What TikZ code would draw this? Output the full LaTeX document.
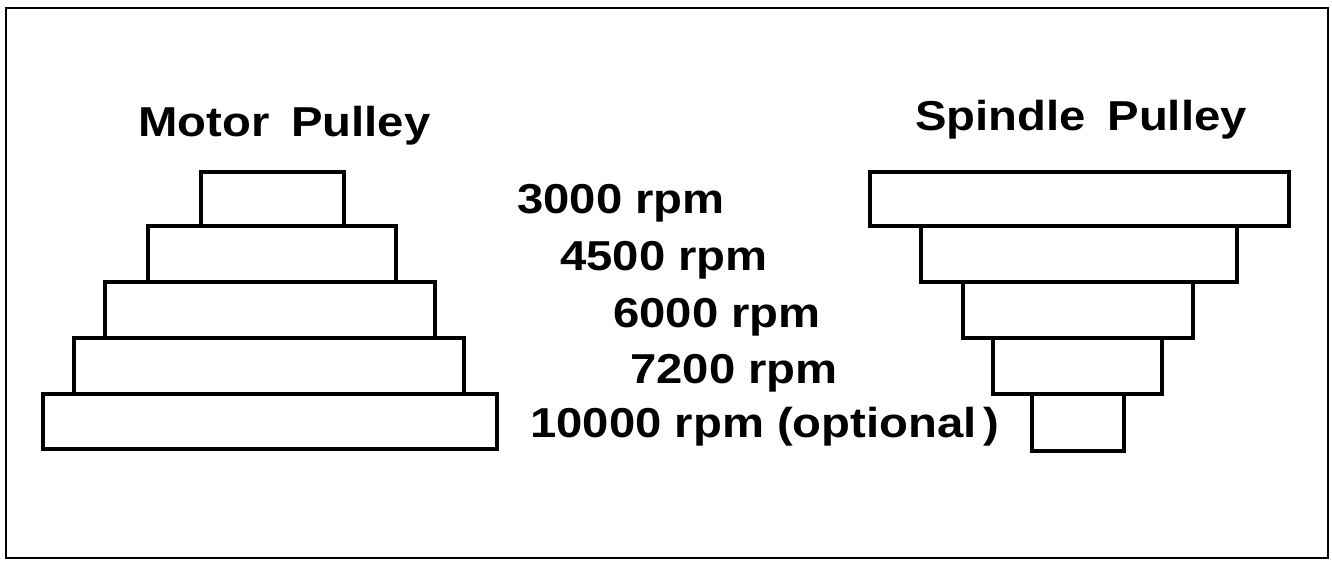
\documentclass[tikz,border=0pt]{standalone}
\usepackage{fontspec}
\newfontfamily\pulleyfont{Liberation Sans}[FakeStretch=1.13]
\usepackage{tikz}
\usetikzlibrary{positioning}

\tikzset{
  heading/.style={font=\pulleyfont\bfseries\fontsize{23.8}{28}\selectfont, inner sep=0pt, anchor=base west},
  speed/.style={font=\pulleyfont\bfseries\fontsize{23.8}{28}\selectfont, inner sep=0pt, anchor=base west},
  pulley/.style={line width=1.9pt}
}

\begin{document}
\begin{tikzpicture}

\useasboundingbox (0, 0) rectangle (26.64, 11.22);

% Frame
\draw[line width=1.6pt] (0.12, 0.06) rectangle (26.56, 11.06);

% Titles
\node[heading] (motor) at (2.76, 8.48) {Motor\hspace{0.2em} Pulley};
\node[heading] (spindle) at (18.30, 8.62) {Spindle\hspace{0.2em} Pulley};

% Motor pulley steps
\draw[pulley] (4.02, 6.70) rectangle (6.88, 7.78);
\draw[pulley] (2.96, 5.58) rectangle (7.92, 6.70);
\draw[pulley] (2.10, 4.46) rectangle (8.70, 5.58);
\draw[pulley] (1.48, 3.34) rectangle (9.28, 4.46);
\draw[pulley] (0.86, 2.24) rectangle (9.94, 3.34);

% Spindle pulley steps
\draw[pulley] (17.40, 6.70) rectangle (25.78, 7.78);
\draw[pulley] (18.42, 5.58) rectangle (24.74, 6.70);
\draw[pulley] (19.26, 4.46) rectangle (23.86, 5.58);
\draw[pulley] (19.86, 3.34) rectangle (23.24, 4.46);
\draw[pulley] (20.64, 2.20) rectangle (22.48, 3.34);

% Speeds
\node[speed] (rpmA) at (10.34, 6.96) {3000 rpm};
\node[speed] (rpmB) at (11.20, 5.82) {4500 rpm};
\node[speed] (rpmC) at (12.26, 4.68) {6000 rpm};
\node[speed] (rpmD) at (12.60, 3.56) {7200 rpm};
\node[speed] (rpmE) at (10.60, 2.48) {10000 rpm (optional\,)};

\end{tikzpicture}
\end{document}
